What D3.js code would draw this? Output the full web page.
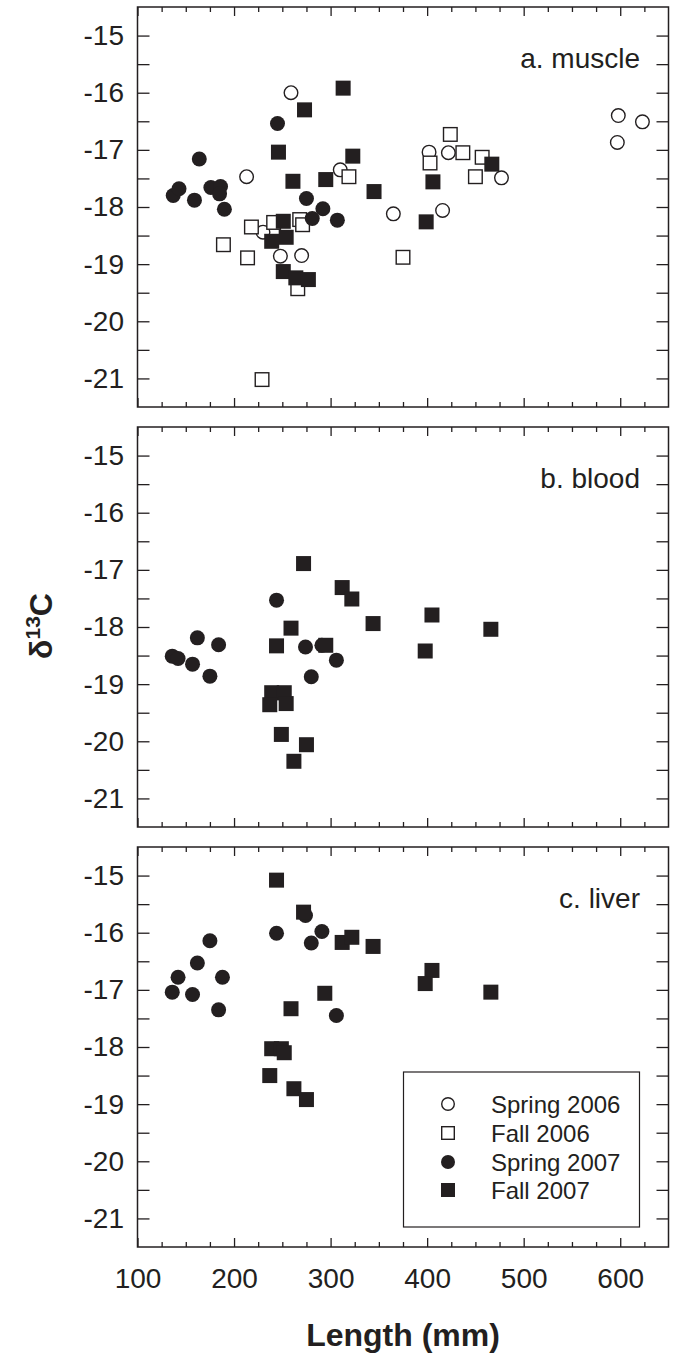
<!DOCTYPE html>
<html><head><meta charset="utf-8">
<script src="https://cdn.jsdelivr.net/npm/d3@7"></script>
<style>body{margin:0;background:#fff}svg{display:block}</style>
</head><body>
<svg id="chart" width="673" height="1358"></svg>
<script>
// ---------- DATA ----------
const xTicksMajor = [100, 200, 300, 400, 500, 600];
const xTicksMinor = [125, 150, 175, 225, 250, 275, 325, 350, 375, 425, 450, 475, 525, 550, 575, 625];
const yTickValues = [-15, -15.5, -16, -16.5, -17, -17.5, -18, -18.5, -19, -19.5, -20, -20.5, -21];
const yTickLabels = [-15, -16, -17, -18, -19, -20, -21];
const seriesNames = ["Spring 2006", "Fall 2006", "Spring 2007", "Fall 2007"];
const panelLabels = ["a. muscle", "b. blood", "c. liver"];

// muscle
const muscleSpring2006 = [[259,-16.0],[213,-17.47],[310,-17.35],[365,-18.12],[230,-18.44],[248,-18.86],[270,-18.85],[402,-17.04],[422,-17.05],[416,-18.06],[477,-17.49],[598,-16.40],[623,-16.51],[597,-16.87]];
const muscleFall2006 = [[189,-18.66],[218,-18.35],[214,-18.89],[241,-18.27],[268,-18.22],[271,-18.31],[266,-19.43],[229,-21.02],[319,-17.47],[375,-18.88],[403,-17.23],[424,-16.73],[437,-17.05],[457,-17.13],[450,-17.47]];
const muscleSpring2007 = [[137,-17.80],[143,-17.68],[159,-17.88],[164,-17.16],[176,-17.66],[186,-17.64],[185,-17.77],[190,-18.04],[245,-16.54],[275,-17.85],[292,-18.03],[281,-18.20],[307,-18.23]];
const muscleFall2007 = [[313,-15.92],[273,-16.30],[246,-17.04],[261,-17.55],[295,-17.52],[323,-17.11],[345,-17.73],[251,-18.25],[254,-18.53],[239,-18.60],[251,-19.13],[264,-19.24],[277,-19.27],[406,-17.56],[399,-18.26],[467,-17.25]];
// blood
const bloodSpring2006 = [];
const bloodFall2006 = [];
const bloodSpring2007 = [[136,-18.51],[142,-18.55],[157,-18.65],[162,-18.19],[175,-18.86],[184,-18.31],[244,-17.53],[274,-18.35],[280,-18.87],[291,-18.32],[306,-18.58]];
const bloodFall2007 = [[272,-16.89],[312,-17.31],[322,-17.51],[344,-17.94],[259,-18.02],[244,-18.33],[295,-18.32],[239,-19.15],[252,-19.15],[237,-19.36],[254,-19.34],[249,-19.88],[275,-20.06],[262,-20.35],[405,-17.79],[398,-18.42],[466,-18.04]];
// liver
const liverSpring2006 = [];
const liverFall2006 = [];
const liverSpring2007 = [[136,-17.04],[142,-16.78],[157,-17.08],[162,-16.53],[175,-16.14],[188,-16.78],[184,-17.35],[244,-16.01],[274,-15.70],[280,-16.18],[291,-15.98],[306,-17.45]];
const liverFall2007 = [[244,-15.08],[272,-15.64],[312,-16.17],[322,-16.08],[344,-16.24],[294,-17.06],[259,-17.33],[239,-18.03],[249,-18.03],[252,-18.10],[237,-18.50],[262,-18.73],[275,-18.92],[405,-16.66],[398,-16.89],[466,-17.04]];

const panelData = [
  [muscleSpring2006, muscleFall2006, muscleSpring2007, muscleFall2007],
  [bloodSpring2006, bloodFall2006, bloodSpring2007, bloodFall2007],
  [liverSpring2006, liverFall2006, liverSpring2007, liverFall2007]
];

// ---------- LAYOUT ----------
const INK = "#231f20";
const FONT = "'Liberation Sans', Arial, Helvetica, sans-serif";
const svg = d3.select("#chart");
const xLeft = 137.5, xRight = 668.5;
const panelTops = [7, 427, 847];
const panelH = 400;
const x = d3.scaleLinear().domain([100, 650]).range([xLeft, xRight]);
// series style: [shape, filled]
const styles = [["circle", false], ["square", false], ["circle", true], ["square", true]];

function drawSymbol(g, cx, cy, style, size) {
  const [shape, filled] = style;
  const sw = 1.4;
  if (shape === "circle") {
    const r = filled ? size / 2 : size / 2 - sw / 2;
    g.append("circle").attr("cx", cx).attr("cy", cy).attr("r", r)
      .attr("fill", filled ? INK : "#fff").attr("stroke", filled ? "none" : INK).attr("stroke-width", sw);
  } else {
    const s = filled ? size : size - sw;
    g.append("rect").attr("x", cx - s / 2).attr("y", cy - s / 2).attr("width", s).attr("height", s)
      .attr("fill", filled ? INK : "#fff").attr("stroke", filled ? "none" : INK).attr("stroke-width", sw);
  }
}

function styleAxis(a) {
  a.select(".domain").remove();
  a.selectAll(".tick line").attr("stroke", INK).attr("stroke-width", 1.3);
  a.attr("font-family", FONT).attr("font-size", 28).attr("color", INK);
}

panelTops.forEach((top, i) => {
  const y = d3.scaleLinear().domain([-21.5, -14.5]).range([top + panelH, top]);
  const g = svg.append("g");

  // left axis with labels
  g.append("g").attr("transform", `translate(${xLeft},0)`)
    .call(d3.axisLeft(y).tickValues(yTickValues).tickSize(-12).tickPadding(13.5)
      .tickFormat(d => yTickLabels.includes(d) ? String(d) : ""))
    .call(styleAxis);
  // right axis
  g.append("g").attr("transform", `translate(${xRight},0)`)
    .call(d3.axisRight(y).tickValues(yTickValues).tickSize(-12).tickFormat(""))
    .call(styleAxis);
  // top axes
  g.append("g").attr("transform", `translate(0,${top})`)
    .call(d3.axisTop(x).tickValues(xTicksMinor).tickSize(-5).tickFormat("")).call(styleAxis);
  g.append("g").attr("transform", `translate(0,${top})`)
    .call(d3.axisTop(x).tickValues(xTicksMajor).tickSize(-9).tickFormat("")).call(styleAxis);
  // bottom axes
  g.append("g").attr("transform", `translate(0,${top + panelH})`)
    .call(d3.axisBottom(x).tickValues(xTicksMinor).tickSize(-5).tickFormat("")).call(styleAxis);
  g.append("g").attr("transform", `translate(0,${top + panelH})`)
    .call(d3.axisBottom(x).tickValues(xTicksMajor).tickSize(-9).tickPadding(21)
      .tickFormat(d => i === 2 ? String(d) : ""))
    .call(styleAxis);

  // frame
  g.append("rect").attr("x", xLeft).attr("y", top).attr("width", xRight - xLeft).attr("height", panelH)
    .attr("fill", "none").attr("stroke", INK).attr("stroke-width", 1.5);

  // panel label
  g.append("text").attr("x", 640).attr("y", top + 61).attr("text-anchor", "end")
    .attr("font-family", FONT).attr("font-size", 28).attr("fill", INK).text(panelLabels[i]);

  // points
  panelData[i].forEach((series, s) => {
    const sg = g.append("g");
    series.forEach(d => drawSymbol(sg, x(d[0]), y(d[1]), styles[s], 15));
  });
});

// legend
const lg = svg.append("g");
lg.append("rect").attr("x", 403.5).attr("y", 1072).attr("width", 236).attr("height", 155)
  .attr("fill", "#fff").attr("stroke", INK).attr("stroke-width", 1.2);
const legendRows = [1104, 1133, 1162, 1190];
seriesNames.forEach((name, s) => {
  drawSymbol(lg, 448, legendRows[s], styles[s], 14);
  lg.append("text").attr("x", 491).attr("y", legendRows[s]).attr("dy", "0.36em")
    .attr("font-family", FONT).attr("font-size", 24).attr("fill", INK).text(name);
});

// axis titles
svg.append("text").attr("x", (xLeft + xRight) / 2).attr("y", 1346).attr("text-anchor", "middle")
  .attr("font-family", FONT).attr("font-size", 32).attr("font-weight", "bold").attr("fill", INK)
  .text("Length (mm)");

const yt = svg.append("text").attr("transform", "translate(52,626) rotate(-90)")
  .attr("text-anchor", "middle").attr("font-family", FONT).attr("font-weight", "bold").attr("fill", INK);
yt.append("tspan").attr("font-size", 32).text("δ");
yt.append("tspan").attr("font-size", 21).attr("dy", -12).text("13");
yt.append("tspan").attr("font-size", 32).attr("dy", 12).text("C");
</script>
</body></html>
